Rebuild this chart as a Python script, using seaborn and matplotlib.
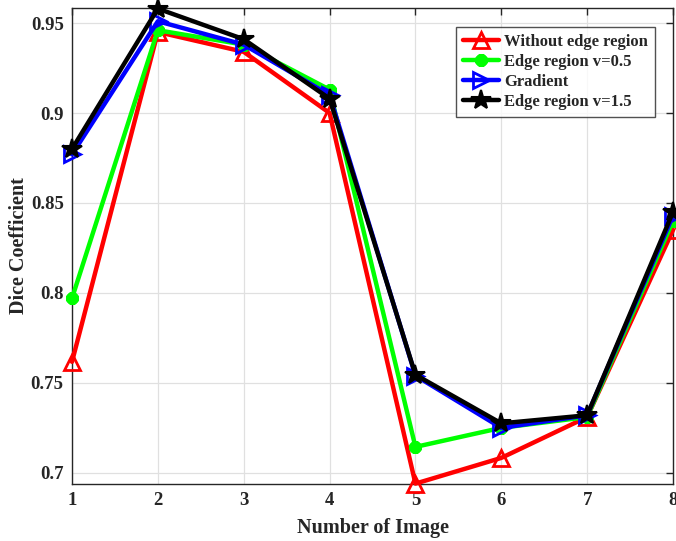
import matplotlib
matplotlib.use("Agg")
import matplotlib.pyplot as plt
import seaborn as sns
import pandas as pd

images = [1, 2, 3, 4, 5, 6, 7, 8]
without_edge = [0.7617, 0.945, 0.934, 0.900, 0.694, 0.7083, 0.731, 0.835]
edge_v05 = [0.797, 0.946, 0.938, 0.913, 0.7144, 0.725, 0.731, 0.840]
gradient = [0.877, 0.951, 0.938, 0.910, 0.754, 0.725, 0.732, 0.843]
edge_v15 = [0.880, 0.958, 0.941, 0.908, 0.7545, 0.7275, 0.732, 0.845]

labels = ["Without edge region", "Edge region v=0.5", "Gradient", "Edge region v=1.5"]
series = [without_edge, edge_v05, gradient, edge_v15]
colors = ["#ff0000", "#00ff00", "#0000ff", "#000000"]
markers = ["^", (8, 2, 0), ">", "*"]
msizes = [12, 9, 12, 15]
mews = [2, 3.2, 2, 1.5]
filled = [False, True, False, True]

sns.set_theme(style="whitegrid")
plt.rcParams["font.family"] = ["Liberation Serif", "DejaVu Serif"]
plt.rcParams["font.weight"] = "bold"

fig = plt.figure(figsize=(6.76, 5.41), dpi=100)
ax = fig.add_axes([0.1065, 0.1054, 0.8891, 0.8796])

for lab, vals, c, m, ms, mw, f in zip(labels, series, colors, markers, msizes, mews, filled):
    df = pd.DataFrame({"image": images, "dice": vals})
    sns.lineplot(data=df, x="image", y="dice", ax=ax, color=c, linewidth=3.2,
                 marker=m, markersize=ms, markeredgewidth=mw,
                 markerfacecolor=(c if f else "none"), markeredgecolor=c,
                 label=lab, clip_on=False, zorder=3)

ax.set_xlim(1, 8)
ax.set_ylim(0.6938, 0.9583)
ax.set_xticks(images)
ax.set_yticks([0.7, 0.75, 0.8, 0.85, 0.9, 0.95])
ax.set_yticklabels(["0.7", "0.75", "0.8", "0.85", "0.9", "0.95"])
ax.set_facecolor("white")
ax.grid(True, color="#e0e0e0", linewidth=0.9)
for s in ax.spines.values():
    s.set_color("#262626")
    s.set_linewidth(1.0)
    s.set_visible(True)
ax.tick_params(direction="in", length=5, width=1, color="#262626",
               top=True, right=True, labelsize=13.5, pad=6, labelcolor="#262626")
for t in ax.get_xticklabels() + ax.get_yticklabels():
    t.set_fontweight("bold")

ax.set_xlabel("Number of Image", fontsize=14.5, fontweight="bold", color="#262626", labelpad=6)
ax.set_ylabel("Dice Coefficient", fontsize=14.5, fontweight="bold", color="#262626", labelpad=1)

leg = ax.legend(loc="upper right", bbox_to_anchor=(0.970, 0.960), borderaxespad=0,
                frameon=True, fancybox=False, edgecolor="#262626",
                handlelength=2.2, handletextpad=0.3, borderpad=0.4,
                labelspacing=0.25, prop={"weight": "bold", "size": 12})
leg.get_frame().set_linewidth(1.0)

fig.savefig("out.png", dpi=100)
